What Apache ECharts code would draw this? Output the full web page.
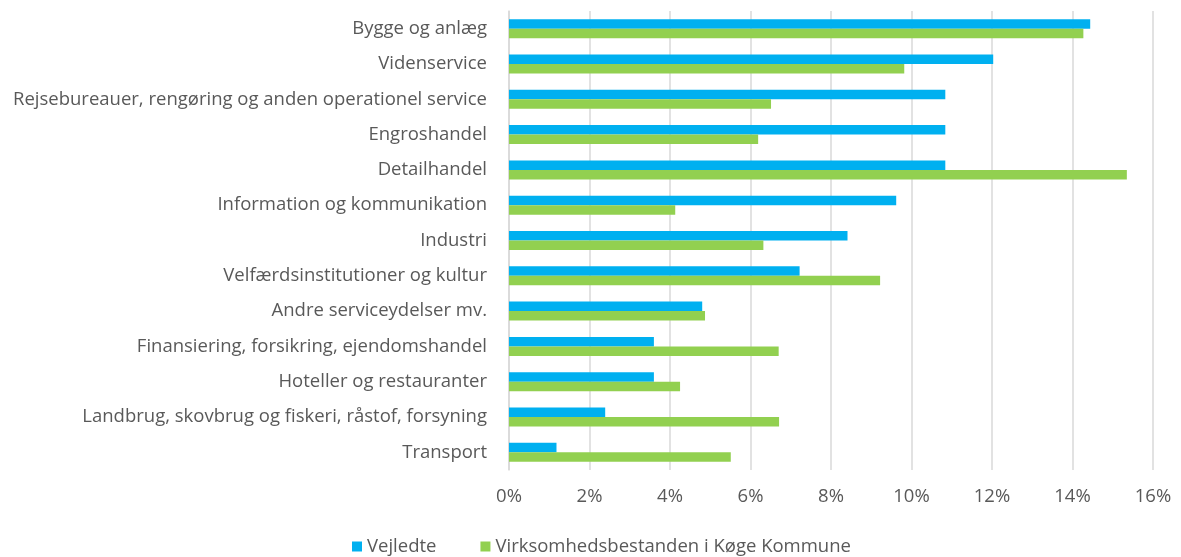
<!DOCTYPE html>
<html>
<head>
<meta charset="utf-8">
<script src="https://cdn.jsdelivr.net/npm/echarts@6/dist/echarts.min.js"></script>
<style>
  html, body { margin: 0; padding: 0; background: #fff; }
  #chart { width: 1181px; height: 557px; }
</style>
</head>
<body>
<div id="chart"></div>
<script>
const categories = [
  'Bygge og anlæg',
  'Videnservice',
  'Rejsebureauer, rengøring og anden operationel service',
  'Engroshandel',
  'Detailhandel',
  'Information og kommunikation',
  'Industri',
  'Velfærdsinstitutioner og kultur',
  'Andre serviceydelser mv.',
  'Finansiering, forsikring, ejendomshandel',
  'Hoteller og restauranter',
  'Landbrug, skovbrug og fiskeri, råstof, forsyning',
  'Transport'
];
const vejledte = [14.44, 12.03, 10.84, 10.84, 10.84, 9.62, 8.41, 7.22, 4.80, 3.60, 3.60, 2.39, 1.18];
const bestanden = [14.27, 9.82, 6.51, 6.19, 15.35, 4.13, 6.32, 9.22, 4.87, 6.70, 4.25, 6.71, 5.51];
const seriesNames = ['Vejledte', 'Virksomhedsbestanden i Køge Kommune'];

const font = '"Open Sans", "Noto Sans", sans-serif';
const textColor = '#595959';
const fontSize = 18.5;

const chart = echarts.init(document.getElementById('chart'));
chart.setOption({
  animation: false,
  backgroundColor: '#fff',
  textStyle: { fontFamily: font },
  grid: { left: 509, right: 28, top: 11, bottom: 87 },
  legend: {
    top: 537,
    left: 352,
    padding: 0,
    icon: 'rect',
    itemWidth: 10,
    itemHeight: 10,
    itemGap: 44,
    textStyle: { color: textColor, fontSize: fontSize, fontFamily: font },
    data: seriesNames
  },
  xAxis: {
    type: 'value',
    min: 0,
    max: 16,
    interval: 2,
    axisLine: { show: false },
    axisTick: { show: false },
    axisLabel: {
      color: textColor,
      fontSize: fontSize,
      margin: 17,
      formatter: (v) => v + '%'
    },
    splitLine: { lineStyle: { color: '#d9d9d9', width: 1.5 } }
  },
  yAxis: {
    type: 'category',
    inverse: true,
    data: categories,
    axisLine: { show: true, lineStyle: { color: '#d9d9d9', width: 1.5 } },
    axisTick: { show: false },
    axisLabel: { color: textColor, fontSize: fontSize, margin: 22 }
  },
  series: [
    {
      name: seriesNames[0],
      type: 'bar',
      barWidth: 9.5,
      barGap: '0%',
      itemStyle: { color: '#00b0f0' },
      data: vejledte
    },
    {
      name: seriesNames[1],
      type: 'bar',
      barWidth: 9.5,
      barGap: '0%',
      itemStyle: { color: '#92d050' },
      data: bestanden
    }
  ]
});
</script>
</body>
</html>
